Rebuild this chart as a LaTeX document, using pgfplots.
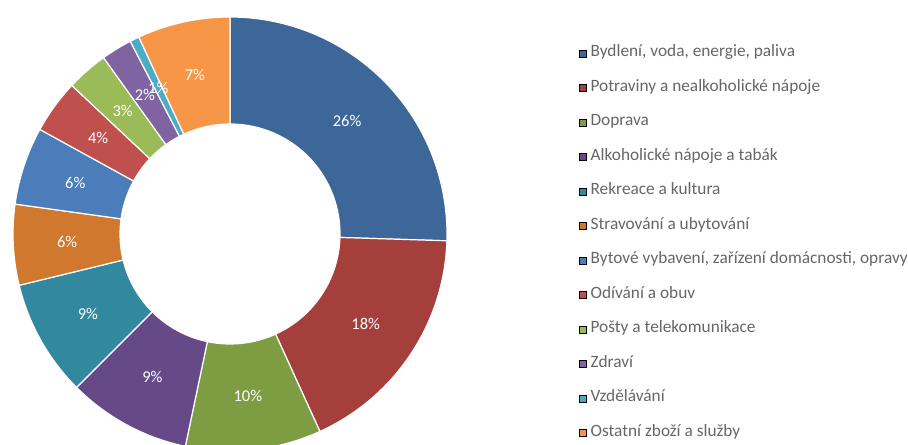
\documentclass[border=0pt]{standalone}
\usepackage{pgfplots}
\usepackage{pgfplotstable}
\pgfplotsset{compat=1.18}
\usepackage{fontspec}
\setmainfont{Carlito}

\definecolor{c0}{HTML}{3D6699}
\definecolor{c1}{HTML}{A43F3C}
\definecolor{c2}{HTML}{7E9D42}
\definecolor{c3}{HTML}{664A88}
\definecolor{c4}{HTML}{31889F}
\definecolor{c5}{HTML}{D1782F}
\definecolor{c6}{HTML}{4A7DBA}
\definecolor{c7}{HTML}{C0504D}
\definecolor{c8}{HTML}{9BBB59}
\definecolor{c9}{HTML}{8064A2}
\definecolor{c10}{HTML}{4BACC6}
\definecolor{c11}{HTML}{F79646}
\definecolor{legendgray}{HTML}{666666}

% shares in percent, clockwise from 12 o'clock
\pgfplotstableread{
share
25.5
17.7
10.1
9.2
8.7
6.0
5.8
4.0
3.1
2.3
0.7
6.9
}\donutdata

% angles of each ring segment
\gdef\cumsum{0}
\pgfplotsforeachungrouped \i in {0,...,11}{%
  \pgfplotstablegetelem{\i}{share}\of\donutdata
  \let\share\pgfplotsretval
  \pgfmathsetmacro\angstart{90-3.6*\cumsum}
  \pgfmathsetmacro\cumnew{\cumsum+\share}
  \xdef\cumsum{\cumnew}
  \pgfmathsetmacro\angend{90-3.6*\cumsum}
  \pgfmathsetmacro\angmid{(\angstart+\angend)/2}
  \pgfmathtruncatemacro\pct{round(\share)}
  \expandafter\xdef\csname sa\i\endcsname{\angstart}
  \expandafter\xdef\csname ea\i\endcsname{\angend}
  \expandafter\xdef\csname ma\i\endcsname{\angmid}
  \expandafter\xdef\csname lab\i\endcsname{\pct}
}
\newcommand\sa[1]{\csname sa#1\endcsname}
\newcommand\ea[1]{\csname ea#1\endcsname}
\newcommand\ma[1]{\csname ma#1\endcsname}
\newcommand\lab[1]{\csname lab#1\endcsname}

\def\cx{230}
\def\cy{211}
\def\ro{217}
\def\ri{110}

\begin{document}
\begin{tikzpicture}
\begin{axis}[
    width=908bp, height=445bp, scale only axis,
    xmin=0, xmax=908, ymin=0, ymax=445,
    hide axis, clip=false,
    legend cell align=left,
    legend image code/.code={\fill[#1] (0bp,-3.5bp) rectangle (7bp,3.5bp);},
    legend style={
        draw=none, fill=none,
        at={(axis cs:579,397.5)}, anchor=north west,
        font=\fontsize{17.3bp}{19bp}\selectfont, text=legendgray,
        row sep=22.5bp, inner sep=0pt,
        nodes={inner sep=0pt, text height=9bp, text depth=3bp},
        /tikz/every odd column/.style={column sep=4bp},
    },
]
\pgfplotsinvokeforeach{0,...,11}{%
  \fill[c#1, draw=white, line width=1.2bp]
    (axis cs:{\cx+\ri*cos(\sa{#1})},{\cy+\ri*sin(\sa{#1})})
    -- (axis cs:{\cx+\ro*cos(\sa{#1})},{\cy+\ro*sin(\sa{#1})})
    arc[start angle=\sa{#1}, end angle=\ea{#1}, radius=\ro bp]
    -- (axis cs:{\cx+\ri*cos(\ea{#1})},{\cy+\ri*sin(\ea{#1})})
    arc[start angle=\ea{#1}, end angle=\sa{#1}, radius=\ri bp]
    -- cycle;
}
\pgfplotsinvokeforeach{0,...,11}{%
  \node[text=white, font=\fontsize{16.5bp}{16.5bp}\selectfont]
    at (axis cs:{\cx+163*cos(\ma{#1})},{\cy+163*sin(\ma{#1})}) {\lab{#1}\%};
}
\addlegendimage{fill=c0}\addlegendentry{Bydlení, voda, energie, paliva}
\addlegendimage{fill=c1}\addlegendentry{Potraviny a nealkoholické nápoje}
\addlegendimage{fill=c2}\addlegendentry{Doprava}
\addlegendimage{fill=c3}\addlegendentry{Alkoholické nápoje a tabák}
\addlegendimage{fill=c4}\addlegendentry{Rekreace a kultura}
\addlegendimage{fill=c5}\addlegendentry{Stravování a ubytování}
\addlegendimage{fill=c6}\addlegendentry{Bytové vybavení, zařízení domácnosti, opravy}
\addlegendimage{fill=c7}\addlegendentry{Odívání a obuv}
\addlegendimage{fill=c8}\addlegendentry{Pošty a telekomunikace}
\addlegendimage{fill=c9}\addlegendentry{Zdraví}
\addlegendimage{fill=c10}\addlegendentry{Vzdělávání}
\addlegendimage{fill=c11}\addlegendentry{Ostatní zboží a služby}
\end{axis}
\pgfresetboundingbox
\path (current axis.south west) rectangle (current axis.north east);
\end{tikzpicture}
\end{document}
